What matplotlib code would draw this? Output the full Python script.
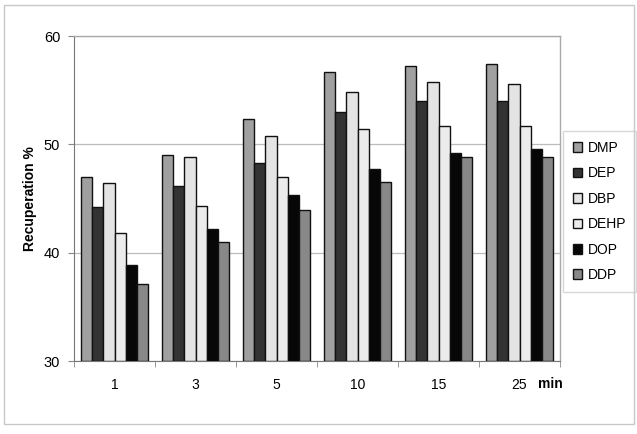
import numpy as np
import matplotlib.pyplot as plt
from matplotlib.patches import Rectangle

plt.rcParams['font.family'] = ['Liberation Sans', 'DejaVu Sans']

times = ['1', '3', '5', '10', '15', '25']
compounds = ['DMP', 'DEP', 'DBP', 'DEHP', 'DOP', 'DDP']
dmp = [47.0, 49.05, 52.3, 56.7, 57.2, 57.4]
dep = [44.2, 46.2, 48.3, 52.95, 54.0, 54.0]
dbp = [46.4, 48.8, 50.8, 54.8, 55.75, 55.6]
dehp = [41.85, 44.3, 47.0, 51.4, 51.7, 51.65]
dop = [38.85, 42.2, 45.3, 47.7, 49.2, 49.55]
ddp = [37.1, 41.0, 43.9, 46.5, 48.85, 48.8]
series = [dmp, dep, dbp, dehp, dop, ddp]
colors = ['#a0a0a0', '#333333', '#e4e4e4', '#ececec', '#070707', '#888888']

fig = plt.figure(figsize=(6.37, 4.34), dpi=100)
# outer frame
fig.patches.append(Rectangle((0.007, 0.022), 0.988, 0.966, transform=fig.transFigure,
                             fill=False, edgecolor='#c8c8c8', linewidth=1.0))
ax = fig.add_axes([0.1162, 0.168, 0.763, 0.749])

x = np.arange(len(times))
w = 0.137
for i, (vals, c) in enumerate(zip(series, colors)):
    ax.bar(x + (i - 2.5) * w, np.array(vals) - 30, bottom=30, width=w, color=c,
           edgecolor='#111111', linewidth=1.0, label=compounds[i], zorder=3)

ax.set_xlim(-0.5, len(times) - 0.5)
ax.set_ylim(30, 60)
ax.set_yticks([30, 40, 50, 60])
ax.yaxis.grid(True, color='#bbbbbb', linewidth=0.9, zorder=0)
ax.set_axisbelow(True)

ax.set_xticks(x)
ax.set_xticklabels(times, fontsize=10)
ax.set_xticks(np.arange(len(times) + 1) - 0.5, minor=True)
ax.tick_params(axis='x', which='major', length=0, pad=12)
ax.tick_params(axis='x', which='minor', length=4, color='#888888')
ax.tick_params(axis='y', length=4, color='#888888', labelsize=10.5, pad=6)

for s in ['left', 'bottom']:
    ax.spines[s].set_color('#777777')
for s in ['top', 'right']:
    ax.spines[s].set_color('#aaaaaa')
    ax.spines[s].set_linewidth(1.0)

ax.set_ylabel('Recuperation %', fontsize=10, fontweight='bold', labelpad=5)
ax.text(5.23, -0.072, 'min', transform=ax.get_xaxis_transform(), fontsize=10,
        fontweight='bold', va='center', ha='left')

leg = ax.legend(loc='center left', bbox_to_anchor=(1.0, 0.46), fontsize=10,
                frameon=True, fancybox=False, edgecolor='#cccccc',
                handlelength=0.7, handleheight=0.7, handletextpad=0.4,
                labelspacing=0.82, borderpad=0.7, borderaxespad=0.2)

fig.savefig('out.png', dpi=100)
